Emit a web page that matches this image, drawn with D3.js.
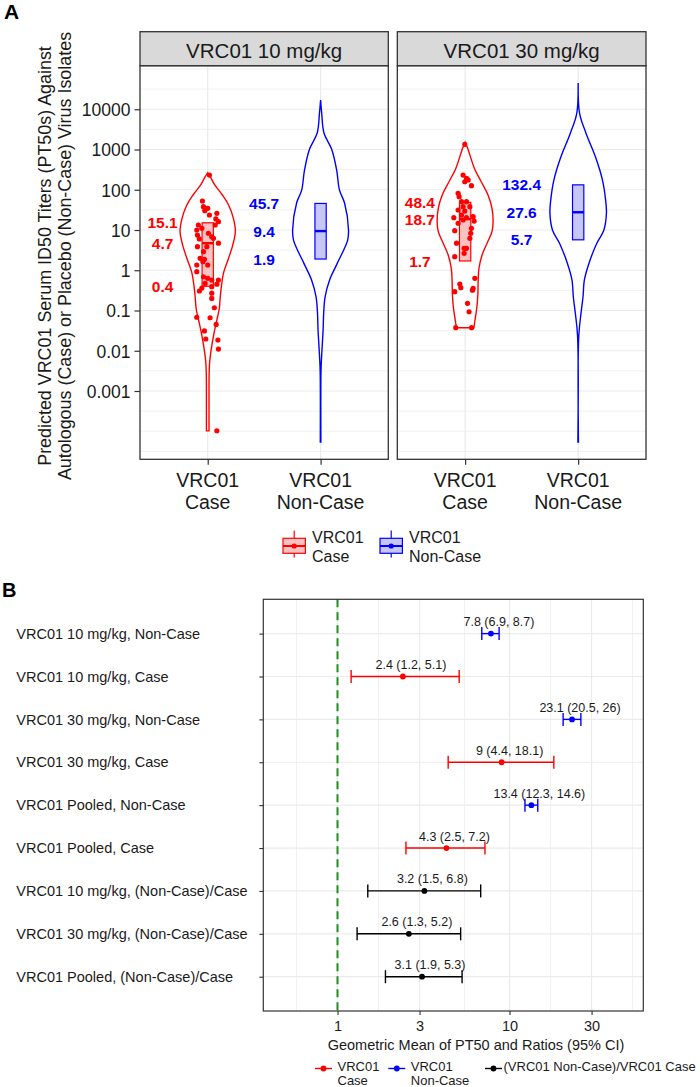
<!DOCTYPE html>
<html><head><meta charset="utf-8">
<script src="https://cdn.jsdelivr.net/npm/d3@7"></script>
<style>
body{margin:0;background:#fff}
svg{display:block}
text{font-family:"Liberation Sans",Arial,Helvetica,sans-serif}
</style>
</head><body>
<svg id="c" width="700" height="1087"></svg>
<script>
// ---------------- DATA ----------------
const doses = ["VRC01 10 mg/kg", "VRC01 30 mg/kg"];
const groupLabels = [["VRC01", "Case"], ["VRC01", "Non-Case"]];
const yTickValues = [0.001, 0.01, 0.1, 1, 10, 100, 1000, 10000];

// box statistics (Q1, median, Q3) per dose
const caseQ1 = [0.4, 1.7];
const caseMed = [4.7, 18.7];
const caseQ3 = [15.1, 48.4];
const nonCaseQ1 = [1.9, 5.7];
const nonCaseMed = [9.4, 27.6];
const nonCaseQ3 = [45.7, 132.4];

// individual case titers and their jitter (in category units)
const case10Titers = [232,52.5,37.9,34.6,30.2,23.6,26,18.8,16.1,13.3,13.3,10,11,7.5,6.0,8.3,6.8,6.2,4.7,3.85,3.85,2.9,1.98,1.87,1.63,1.35,1.35,0.92,0.69,0.63,0.57,0.57,0.45,0.47,0.36,0.305,0.39,0.27,0.2,0.117,0.068,0.066,0.045,0.031,0.0196,0.0185,0.011,0.000103];
const case10Jitter = [0.015,-0.047,-0.038,0,-0.026,0.015,0.081,0.072,0.095,0.066,-0.083,-0.097,-0.052,-0.091,-0.074,0.006,0.036,0.051,0.095,-0.091,-0.008,-0.038,-0.067,-0.029,-0.043,-0.097,0,-0.097,-0.038,0,0.036,0.095,0.081,-0.023,-0.052,-0.074,0.036,0.036,0.036,0.059,-0.097,0.021,0.075,-0.029,-0.017,0.09,0.095,0.081];
const case30Titers = [1346,232,192,175,158,126,81.6,67.2,50.5,50.5,37.9,37.9,31.4,29.6,20.2,23.6,20.2,21.4,16.7,17.7,14.7,11,9.6,8.3,6.2,4.7,3.5,3.5,2.64,2.17,0.63,0.455,0.37,0.356,0.293,0.32,0.151,0.093,0.0374,0.0374];
const case30Jitter = [-0.003,-0.018,0.013,0.027,-0.003,0.056,-0.062,-0.053,-0.032,0.012,-0.018,0.042,-0.062,-0.003,-0.1,-0.032,0.012,0.071,0.08,-0.018,-0.062,0.056,-0.092,0.05,0.042,-0.076,-0.009,0.012,-0.009,-0.092,0.086,-0.047,-0.038,0.071,-0.092,0.065,0.021,0.035,-0.083,0.057];

// violin outlines: [log10 titer, relative density]
const violinCase10 = [[2.42,0],[2.3,0.11],[2.12,0.25],[1.87,0.52],[1.62,0.74],[1.29,0.91],[0.96,0.98],[0.63,0.89],[0.3,0.74],[-0.04,0.57],[-0.37,0.49],[-0.7,0.44],[-0.95,0.41],[-1.28,0.31],[-1.61,0.21],[-1.94,0.13],[-2.27,0.07],[-2.6,0.05],[-3.0,0.046],[-3.5,0.046],[-3.99,0.046]];
const violinNonCase10 = [[4.23,0],[3.9,0.04],[3.41,0.12],[3.01,0.39],[2.49,0.57],[1.99,0.67],[1.67,0.85],[1.0,0.99],[0.75,0.96],[0.17,0.59],[-0.24,0.32],[-0.66,0.16],[-1.06,0.11],[-1.48,0.09],[-2.16,0.035],[-2.5,0.015],[-4.27,0.01]];
const violinCase30 = [[3.18,0],[3.05,0.08],[2.86,0.17],[2.53,0.33],[2.2,0.57],[1.87,0.81],[1.54,0.95],[1.21,0.99],[0.96,0.95],[0.71,0.8],[0.38,0.6],[0.05,0.49],[-0.28,0.46],[-0.61,0.45],[-0.95,0.41],[-1.28,0.34],[-1.43,0.31]];
const violinNonCase30 = [[4.65,0],[3.9,0.05],[3.4,0.28],[2.8,0.62],[2.24,0.86],[1.75,0.97],[1.42,1.0],[1.0,0.91],[0.67,0.66],[0.17,0.38],[-0.24,0.22],[-0.67,0.17],[-1.07,0.1],[-1.65,0.02],[-4.27,0.01]];

// Panel B
const forestLabels = ["VRC01 10 mg/kg, Non-Case","VRC01 10 mg/kg, Case","VRC01 30 mg/kg, Non-Case","VRC01 30 mg/kg, Case","VRC01 Pooled, Non-Case","VRC01 Pooled, Case","VRC01 10 mg/kg, (Non-Case)/Case","VRC01 30 mg/kg, (Non-Case)/Case","VRC01 Pooled, (Non-Case)/Case"];
const forestEst = [7.8, 2.4, 23.1, 9, 13.4, 4.3, 3.2, 2.6, 3.1];
const forestLo  = [6.9, 1.2, 20.5, 4.4, 12.3, 2.5, 1.5, 1.3, 1.9];
const forestHi  = [8.7, 5.1, 26, 18.1, 14.6, 7.2, 6.8, 5.2, 5.3];
const forestGroup = ["nc","case","nc","case","nc","case","ratio","ratio","ratio"];
const forestTicks = [1, 3, 10, 30];
const forestLegend = [["case", ["VRC01","Case"]], ["nc", ["VRC01","Non-Case"]], ["ratio", ["(VRC01 Non-Case)/VRC01 Case"]]];

// ---------------- STYLE ----------------
const RED = "#FF0000", BLUE = "#0000FF", BLACK = "#000000";
const RED_FILL = "#FFC2C2", BLUE_FILL = "#C6C6FA";
const GRID = "#EBEBEB", BORDER = "#333333", TXT = "#1a1a1a";
const grpColor = {case: RED, nc: BLUE, ratio: BLACK};

const svg = d3.select("#c");

// ---------------- PANEL A ----------------
svg.append("text").attr("x", 4).attr("y", 18.5).attr("font-size", 21).attr("font-weight", "bold").text("A");

const panelTop = 65.7, panelBot = 459.3, stripTop = 31.7;
const panelsX = [[140, 388.3], [397.3, 646]];
const yA = d3.scaleLog().domain([Math.pow(10, -4.697), Math.pow(10, 5.082)]).range([panelBot, panelTop]);

const caseTiters = [case10Titers, case30Titers];
const caseJitter = [case10Jitter, case30Jitter];
const violinsCase = [violinCase10, violinCase30];
const violinsNC = [violinNonCase10, violinNonCase30];

panelsX.forEach(([x0, x1], p) => {
  const x = d3.scaleLinear().domain([0.4, 2.6]).range([x0, x1]);
  const unit = x(1) - x(0);
  const g = svg.append("g");
  // grid
  const minor = d3.range(-4.5, 5.01, 1).map(e => Math.pow(10, e)).concat([1e-4, 1e5]);
  g.selectAll(".mn").data(minor).join("line")
    .attr("x1", x0).attr("x2", x1).attr("y1", d => yA(d)).attr("y2", d => yA(d))
    .attr("stroke", GRID).attr("stroke-width", 0.7);
  g.selectAll(".mj").data(yTickValues).join("line")
    .attr("x1", x0).attr("x2", x1).attr("y1", d => yA(d)).attr("y2", d => yA(d))
    .attr("stroke", GRID).attr("stroke-width", 1.2);
  g.selectAll(".vx").data([1, 2]).join("line")
    .attr("x1", d => x(d)).attr("x2", d => x(d)).attr("y1", panelTop).attr("y2", panelBot)
    .attr("stroke", GRID).attr("stroke-width", 1.2);

  // violins
  const hw = 0.25 * unit;
  const drawViolin = (data, cx, color) => {
    const area = d3.area()
      .y(d => yA(Math.pow(10, d[0])))
      .x0(d => cx - d[1] * hw)
      .x1(d => cx + d[1] * hw)
      .curve(d3.curveCatmullRom);
    g.append("path").attr("d", area(data)).attr("fill", "#fff")
      .attr("stroke", color).attr("stroke-width", 1.4);
  };
  drawViolin(violinsCase[p], x(1), RED);
  drawViolin(violinsNC[p], x(2), BLUE);

  // boxes
  const bw = 0.05 * unit;
  const drawBox = (cx, q1, med, q3, color, fill) => {
    g.append("rect").attr("x", cx - bw).attr("width", 2 * bw)
      .attr("y", yA(q3)).attr("height", yA(q1) - yA(q3))
      .attr("fill", fill).attr("stroke", color).attr("stroke-width", 1.2);
    g.append("line").attr("x1", cx - bw).attr("x2", cx + bw)
      .attr("y1", yA(med)).attr("y2", yA(med)).attr("stroke", color).attr("stroke-width", 2.4);
  };
  drawBox(x(1), caseQ1[p], caseMed[p], caseQ3[p], RED, RED_FILL);
  drawBox(x(2), nonCaseQ1[p], nonCaseMed[p], nonCaseQ3[p], BLUE, BLUE_FILL);

  // points
  g.selectAll(".pt").data(caseTiters[p]).join("circle")
    .attr("cx", (d, i) => x(1 + caseJitter[p][i])).attr("cy", d => yA(d))
    .attr("r", 2.6).attr("fill", RED);

  // value labels
  const lab = (vals, xc, color) => {
    g.selectAll(null).data(vals).join("text")
      .attr("x", x(xc)).attr("y", d => yA(d)).attr("dy", "0.36em")
      .attr("text-anchor", "middle").attr("font-size", 15.5).attr("font-weight", "bold")
      .attr("fill", color).text(d => d);
  };
  lab([caseQ3[p], caseMed[p], caseQ1[p]], 0.6, RED);
  lab([nonCaseQ3[p], nonCaseMed[p], nonCaseQ1[p]], 1.5, BLUE);

  // border
  g.append("rect").attr("x", x0).attr("y", panelTop).attr("width", x1 - x0).attr("height", panelBot - panelTop)
    .attr("fill", "none").attr("stroke", BORDER).attr("stroke-width", 1.3);
  // strip
  g.append("rect").attr("x", x0).attr("y", stripTop).attr("width", x1 - x0).attr("height", panelTop - stripTop)
    .attr("fill", "#D9D9D9").attr("stroke", BORDER).attr("stroke-width", 1.3);
  g.append("text").attr("x", (x0 + x1) / 2).attr("y", 57.5).attr("text-anchor", "middle")
    .attr("font-size", 20.5).attr("fill", TXT).text(doses[p]);

  // x axis
  const ax = d3.axisBottom(x).tickValues([1, 2]).tickSize(5.5).tickFormat("");
  const axg = svg.append("g").attr("transform", `translate(0,${panelBot})`).call(ax);
  axg.select(".domain").remove();
  axg.selectAll("line").attr("stroke", BORDER).attr("stroke-width", 1.2);
  [1, 2].forEach((c, i) => {
    const t = svg.append("text").attr("x", x(c)).attr("text-anchor", "middle")
      .attr("font-size", 19.5).attr("fill", TXT);
    groupLabels[i].forEach((s, k) => t.append("tspan").attr("x", x(c)).attr("y", 486.5 + k * 22).text(s));
  });

  if (p === 0) {
    const ay = d3.axisLeft(yA).tickValues(yTickValues).tickSize(5.5)
      .tickFormat(d => d >= 1 ? d3.format("d")(d) : String(d));
    const ayg = svg.append("g").attr("transform", `translate(${x0},0)`).call(ay);
    ayg.select(".domain").remove();
    ayg.selectAll("line").attr("stroke", BORDER).attr("stroke-width", 1.2);
    ayg.selectAll("text").attr("font-size", 17.5).attr("fill", TXT)
      .attr("font-family", '"Liberation Sans",Arial,sans-serif').attr("x", -9.5).attr("dy", "0.36em");
  }
});

// y title
[["Predicted VRC01 Serum ID50 Titers (PT50s) Against", 50.5], ["Autologous (Case) or Placebo (Non-Case) Virus Isolates", 71]]
  .forEach(([s, bx]) => svg.append("text").attr("transform", `translate(${bx},256) rotate(-90)`)
    .attr("text-anchor", "middle").attr("font-size", 17.9).attr("fill", TXT).text(s));

// legend A
[[0, RED, RED_FILL, 283], [1, BLUE, BLUE_FILL, 380]].forEach(([i, col, fill, kx]) => {
  const g = svg.append("g");
  const cx = kx + 11.2;
  g.append("line").attr("x1", cx).attr("x2", cx).attr("y1", 530.5).attr("y2", 557.5).attr("stroke", col).attr("stroke-width", 1.2);
  g.append("rect").attr("x", kx).attr("y", 538.3).attr("width", 22.4).attr("height", 15).attr("fill", fill).attr("stroke", col).attr("stroke-width", 1.2);
  g.append("line").attr("x1", kx).attr("x2", kx + 22.4).attr("y1", 546).attr("y2", 546).attr("stroke", col).attr("stroke-width", 2);
  g.append("circle").attr("cx", cx).attr("cy", 546).attr("r", 2.6).attr("fill", col);
  const t = g.append("text").attr("font-size", 16).attr("fill", TXT);
  groupLabels[i].forEach((s, k) => t.append("tspan").attr("x", kx + 29).attr("y", 543.3 + k * 18.3).text(s));
});

// ---------------- PANEL B ----------------
svg.append("text").attr("x", 2).attr("y", 597).attr("font-size", 20).attr("font-weight", "bold").text("B");

const bx0 = 263.3, bx1 = 643.3, by0 = 599.3, by1 = 1011;
const xB = d3.scaleLog().domain([Math.pow(10, (bx0 - 337.5) / 172), Math.pow(10, (bx1 - 337.5) / 172)]).range([bx0, bx1]);
const yB = d3.scalePoint().domain(forestLabels).range([by0, by1]).padding(0.8);
const gb = svg.append("g");

// grid
const lt = forestTicks.map(d => Math.log10(d));
const step0 = lt[1] - lt[0];
const ext = [lt[0] - step0].concat(lt, [lt[lt.length - 1] + step0]);
const minorB = d3.pairs(ext).map(([a, b]) => Math.pow(10, (a + b) / 2));
gb.selectAll(".mnb").data(minorB).join("line")
  .attr("x1", d => xB(d)).attr("x2", d => xB(d)).attr("y1", by0).attr("y2", by1)
  .attr("stroke", GRID).attr("stroke-width", 0.7);
gb.selectAll(".mjb").data(forestTicks).join("line")
  .attr("x1", d => xB(d)).attr("x2", d => xB(d)).attr("y1", by0).attr("y2", by1)
  .attr("stroke", GRID).attr("stroke-width", 1.2);
gb.selectAll(".hy").data(forestLabels).join("line")
  .attr("x1", bx0).attr("x2", bx1).attr("y1", d => yB(d)).attr("y2", d => yB(d))
  .attr("stroke", GRID).attr("stroke-width", 1.2);

// reference line at 1
gb.append("line").attr("x1", xB(1)).attr("x2", xB(1)).attr("y1", by0).attr("y2", by1)
  .attr("stroke", "#228B22").attr("stroke-width", 2).attr("stroke-dasharray", "8,5");

// error bars
forestLabels.forEach((lab, i) => {
  const y = yB(lab), col = grpColor[forestGroup[i]];
  gb.append("line").attr("x1", xB(forestLo[i])).attr("x2", xB(forestHi[i])).attr("y1", y).attr("y2", y)
    .attr("stroke", col).attr("stroke-width", 1.4);
  [forestLo[i], forestHi[i]].forEach(v => gb.append("line").attr("x1", xB(v)).attr("x2", xB(v))
    .attr("y1", y - 6.5).attr("y2", y + 6.5).attr("stroke", col).attr("stroke-width", 1.4));
  gb.append("circle").attr("cx", xB(forestEst[i])).attr("cy", y).attr("r", 2.9).attr("fill", col);
  gb.append("text").attr("x", xB(forestEst[i]) + 8).attr("y", y - 7.5).attr("text-anchor", "middle")
    .attr("font-size", 12.5).attr("fill", TXT).text(`${forestEst[i]} (${forestLo[i]}, ${forestHi[i]})`);
});

gb.append("rect").attr("x", bx0).attr("y", by0).attr("width", bx1 - bx0).attr("height", by1 - by0)
  .attr("fill", "none").attr("stroke", BORDER).attr("stroke-width", 1.2);

// axes B
const ayB = svg.append("g").attr("transform", `translate(${bx0},0)`).call(d3.axisLeft(yB).tickSize(4).tickFormat(""));
ayB.select(".domain").remove();
ayB.selectAll("line").attr("stroke", BORDER).attr("stroke-width", 1.1);
svg.selectAll(".ylabB").data(forestLabels).join("text")
  .attr("x", 16.3).attr("y", d => yB(d)).attr("dy", "0.36em").attr("font-size", 14.5).attr("fill", TXT).text(d => d);

const axB = svg.append("g").attr("transform", `translate(0,${by1})`)
  .call(d3.axisBottom(xB).tickValues(forestTicks).tickSize(4).tickFormat(d3.format("d")));
axB.select(".domain").remove();
axB.selectAll("line").attr("stroke", BORDER).attr("stroke-width", 1.1);
axB.selectAll("text").attr("font-size", 14.5).attr("fill", TXT)
  .attr("font-family", '"Liberation Sans",Arial,sans-serif').attr("y", 7).attr("dy", "0.9em");

svg.append("text").attr("x", 476).attr("y", 1050).attr("text-anchor", "middle").attr("font-size", 14.5)
  .attr("fill", TXT).text("Geometric Mean of PT50 and Ratios (95% CI)");

// legend B
const legX = {case: 315, nc: 388.3, ratio: 485};
forestLegend.forEach(([grp, lines]) => {
  const kx = legX[grp], col = grpColor[grp];
  svg.append("line").attr("x1", kx).attr("x2", kx + 17).attr("y1", 1068.5).attr("y2", 1068.5).attr("stroke", col).attr("stroke-width", 1.4);
  svg.append("circle").attr("cx", kx + 8.5).attr("cy", 1068.5).attr("r", 2.9).attr("fill", col);
  const t = svg.append("text").attr("font-size", 13).attr("fill", TXT);
  lines.forEach((s, k) => t.append("tspan").attr("x", kx + (grp === "ratio" ? 18.5 : 22.5)).attr("y", 1071 + k * 13.8).text(s));
});
</script>
</body></html>
